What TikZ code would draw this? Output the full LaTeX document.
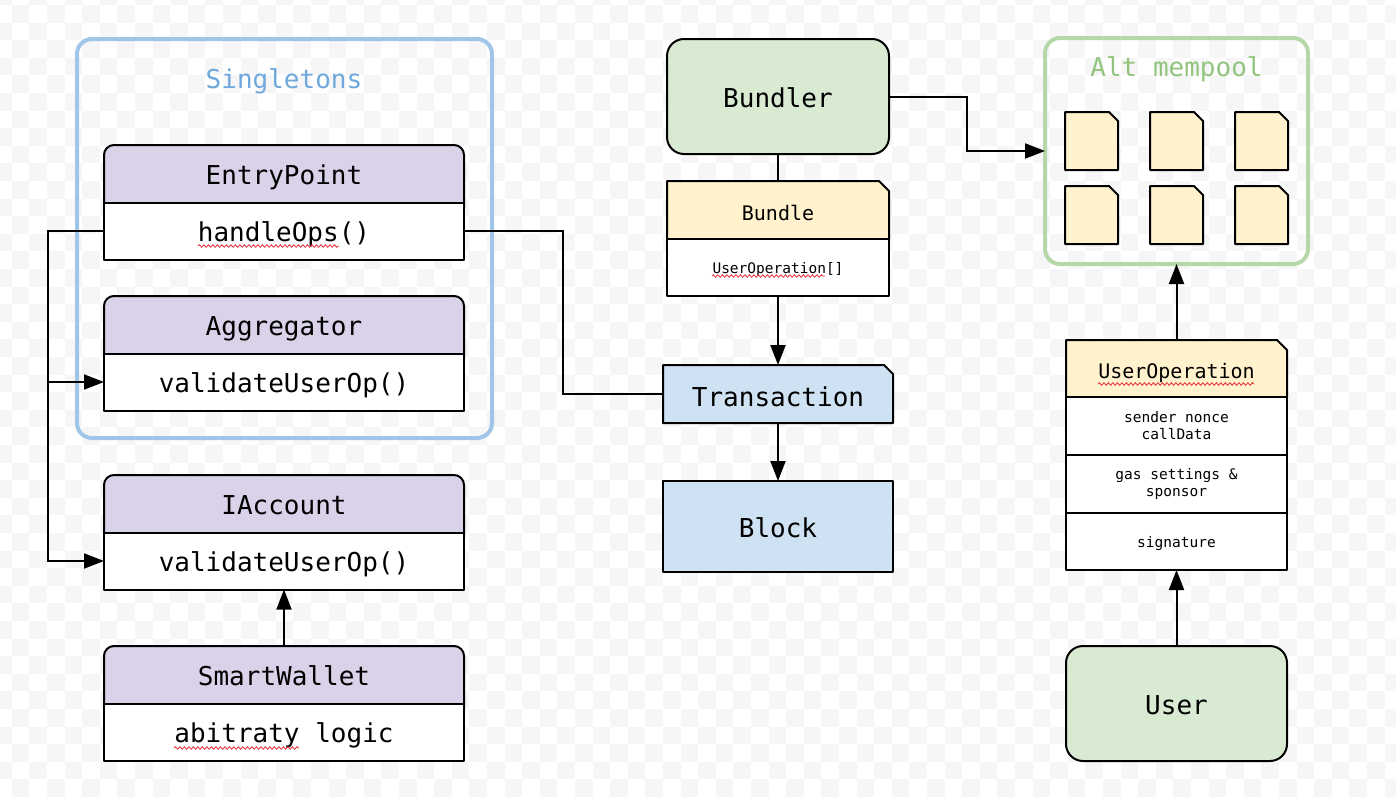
\documentclass[tikz,border=0pt]{standalone}
\usepackage{fontspec}
\setmainfont{DejaVu Sans Mono}
\usetikzlibrary{arrows.meta,decorations.pathmorphing}
\definecolor{lav}{HTML}{D9D2E9}
\definecolor{yel}{HTML}{FFF2CC}
\definecolor{lblue}{HTML}{CFE2F3}
\definecolor{lgreen}{HTML}{D9EAD3}
\definecolor{contblue}{HTML}{9FC5E8}
\definecolor{txtblue}{HTML}{6FA8DC}
\definecolor{contgreen}{HTML}{B6D7A8}
\definecolor{txtgreen}{HTML}{93C47D}
\definecolor{chk}{HTML}{F6F6F6}
\definecolor{squig}{HTML}{E8303A}
\tikzset{
  boxline/.style={draw=black,line width=2pt,line join=round},
  big/.style={font=\fontsize{26}{30}\selectfont,text height=21pt,text depth=0pt},
  mid/.style={font=\fontsize{20}{24}\selectfont,text height=20.5pt,text depth=0pt},
  small/.style={font=\fontsize{14.5}{17}\selectfont},
  smallone/.style={small,text height=11.6pt,text depth=0pt},
  cell/.style={rectangle,inner sep=0pt,outer sep=0pt,anchor=center},
  hdrtext/.style={cell,big,minimum width=360pt,minimum height=57.5pt},
  bodybox/.style={cell,big,boxline,fill=white,minimum width=360pt,minimum height=57pt},
  container/.style={cell,line width=4pt,rounded corners=15pt},
  conn/.style={draw=black,line width=2pt},
  arr/.style={conn,-{Triangle[length=20pt,width=15pt]}},
  squiggle/.style={draw=squig,line width=0.8pt,decorate,decoration={snake,amplitude=1.3pt,segment length=4.5pt}},
}
\newcommand\classbox[4]{%
  \draw[boxline,fill=lav,rounded corners=10pt] (104,#2+72) rectangle (464,#2);
  \node[hdrtext] (#1) at (284,#2+28.75) {#3};
  \node[bodybox] (#1b) at (284,#2+86) {#4};
}
\begin{document}
\begin{tikzpicture}[x=1pt,y=-1pt]
\useasboundingbox (0,0) rectangle (1396,804);
% checkerboard background
\begin{scope}
\clip (0,0) rectangle (1396,804);
\fill[white] (0,0) rectangle (1396,804);
\foreach \j in {-1,...,45}{
  \pgfmathtruncatemacro\st{-1+mod(\j+1,2)}
  \pgfmathtruncatemacro\nx{\st+2}
  \foreach \i in {\st,\nx,...,80}{
    \fill[chk] (-5.9+17.6*\i,-12.6+17.6*\j) rectangle ++(17.6,17.6);
  }
}
\end{scope}

% containers
\node[container,draw=contblue,minimum width=415pt,minimum height=399pt] (sg) at (284.5,238.5) {};
\node[cell,big,text=txtblue] (sgl) at (284,78.3) {Singletons};
\node[container,draw=contgreen,minimum width=263pt,minimum height=226pt] (mp) at (1176.5,151) {};
\node[cell,big,text=txtgreen] (mpl) at (1176.5,65.8) {Alt mempool};

% class boxes
\classbox{ep}{145}{EntryPoint}{handleOps()}
\classbox{ag}{296}{Aggregator}{validateUserOp()}
\classbox{ia}{475}{IAccount}{validateUserOp()}
\classbox{sw}{646}{SmartWallet}{abitraty logic}

% Bundler & bundle
\node[cell,big,boxline,fill=lgreen,rounded corners=17pt,minimum width=222pt,minimum height=115pt] (bnd) at (778,96.5) {Bundler};
\draw[boxline,fill=yel] (667,239) -- (667,181) -- (879,181) -- (889,191) -- (889,239) -- cycle;
\node[cell,mid,minimum width=222pt,minimum height=58pt] (bdl) at (778,210) {Bundle};
\node[cell,smallone,boxline,fill=white,minimum width=222pt,minimum height=57pt] (bdlb) at (778,267.5) {UserOperation[]};

% Transaction & block
\draw[boxline,fill=lblue] (663,423) -- (663,365) -- (884,365) -- (893,374) -- (893,423) -- cycle;
\node[cell,big,text height=25pt,minimum width=230pt,minimum height=58pt] (tx) at (778,394) {Transaction};
\node[cell,big,boxline,fill=lblue,minimum width=230pt,minimum height=91pt] (blk) at (778,526.5) {Block};

% mempool documents
\foreach \dx in {1065,1150,1235}{
  \foreach \dy in {112,186}{
    \draw[boxline,fill=yel] (\dx,\dy+58) -- (\dx,\dy) -- (\dx+44,\dy) -- (\dx+53,\dy+9) -- (\dx+53,\dy+58) -- cycle;
  }
}

% UserOperation
\draw[boxline,fill=yel] (1066,397) -- (1066,340) -- (1277,340) -- (1287,350) -- (1287,397) -- cycle;
\node[cell,mid,minimum width=221pt,minimum height=57pt] (uo) at (1176.5,368.5) {UserOperation};
\node[cell,small,boxline,fill=white,minimum width=221pt,minimum height=58pt,align=center] (uo1) at (1176.5,426) {sender nonce\\callData};
\node[cell,small,boxline,fill=white,minimum width=221pt,minimum height=58pt,align=center] (uo2) at (1176.5,484) {gas settings \&\\sponsor};
\node[cell,smallone,boxline,fill=white,minimum width=221pt,minimum height=57pt] (uo3) at (1176.5,541.5) {signature};
\node[cell,big,boxline,fill=lgreen,rounded corners=17pt,minimum width=221pt,minimum height=115pt] (usr) at (1176.5,703.5) {User};

% connectors
\draw[arr] (epb.west) -- ++(-56,0) |- (agb.west);
\draw[arr] (epb.west) -- ++(-56,0) |- (iab.west);
\draw[arr] (sw.north) -- (iab.south);
\draw[conn] (epb.east) -- ++(99,0) |- (tx.west);
\draw[conn] (bnd.south) -- (bdl.north);
\draw[arr] (bdlb.south) -- (tx.north);
\draw[arr] (tx.south) -- (blk.north);
\draw[arr] (bnd.east) -- ++(78,0) |- (mp.west);
\draw[arr] (uo.north) -- (mp.south);
\draw[arr] (usr.north) -- (uo3.south);

% spell-check squiggles
\draw[squiggle] (198,246) -- (339,246);
\draw[squiggle] (712,276) -- (825,276);
\draw[squiggle] (174,748) -- (299,748);
\draw[squiggle] (1098,384) -- (1254,384);
\end{tikzpicture}
\end{document}
